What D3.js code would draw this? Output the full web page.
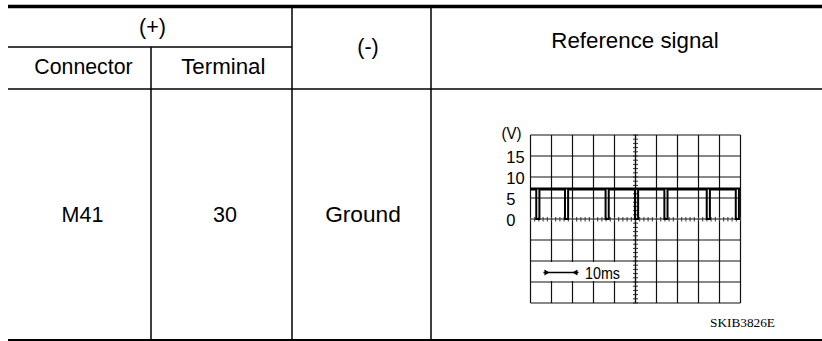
<!DOCTYPE html>
<html><head><meta charset="utf-8">
<script src="https://cdn.jsdelivr.net/npm/d3@7"></script>
<style>html,body{margin:0;padding:0;background:#fff;} svg{display:block}</style>
</head><body>
<svg id="c" width="822" height="341"></svg>
<script>
// ---------- data ----------
const groupHeader = "(+)";
const subHeaders = ["Connector", "Terminal"];
const negHeader = "(-)";
const signalHeader = "Reference signal";
const rowValues = ["M41", "30", "Ground"];
const figureCode = "SKIB3826E";

const voltUnit = "(V)";
const voltTicks = [15, 10, 5, 0];
const voltDomain = [-20, 20];
const timeDomain = [0, 60];            // ms across the screen
const highLevel = 7;                   // V
const lowLevel = 0;                    // V
const pulseTimes = [2.1, 10.3, 21.9, 30.3, 38.7, 50.8, 59.1]; // ms
const pulseWidth = 0.9;                // ms
const timeMarker = [3.7, 13.7];        // ms
const timeMarkerLabel = "10ms";

// ---------- layout ----------
const svg = d3.select("#c");
const font = "'Liberation Sans', Arial, sans-serif";
const colX = [8, 151, 292, 431, 822];

const line = (x1, y1, x2, y2, w) => svg.append("line")
  .attr("x1", x1).attr("y1", y1).attr("x2", x2).attr("y2", y2)
  .attr("stroke", "#000").attr("stroke-width", w);

line(colX[0], 6.5, colX[4], 6.5, 3.5);
line(colX[0], 47, colX[2], 47, 1.5);
line(colX[0], 89, colX[4], 89, 1.5);
line(colX[0], 340, colX[4], 340, 2);
line(colX[1], 47, colX[1], 339, 1.5);
line(colX[2], 8, colX[2], 339, 1.5);
line(colX[3], 8, colX[3], 339, 1.5);

const txt = (s, x, y, size, opts = {}) => svg.append("text")
  .attr("x", x).attr("y", y).attr("text-anchor", opts.anchor || "middle")
  .attr("font-family", opts.family || font).attr("font-size", size)
  .attr("fill", "#000").text(s);

txt(groupHeader, 152.5, 34, 21.5);
txt(subHeaders[0], 83.5, 74, 21.3);
txt(subHeaders[1], 223.3, 74, 22.3);
txt(negHeader, 368, 53.5, 21.5);
txt(signalHeader, 635, 48.3, 22.3);
const rowCenters = [82.5, 225, 363];
const rowSizes = [21.5, 21.5, 22.7];
rowValues.forEach((v, i) => txt(v, rowCenters[i], 221.7, rowSizes[i]));

txt(figureCode, 710, 327, 12.5, {anchor: "start", family: "'Liberation Serif', 'Times New Roman', serif"})
  .attr("textLength", 65).attr("lengthAdjust", "spacingAndGlyphs");

// ---------- oscilloscope ----------
const x = d3.scaleLinear().domain(timeDomain).range([530.5, 740.5]);
const y = d3.scaleLinear().domain(voltDomain).range([303, 135]);
const g = svg.append("g");

const xMajor = d3.range(timeDomain[0], timeDomain[1] + 0.01, (timeDomain[1] - timeDomain[0]) / 10);
const yMajor = d3.range(voltDomain[0], voltDomain[1] + 0.01, 5);
g.selectAll(".gx").data(xMajor).join("line")
  .attr("x1", d => x(d)).attr("x2", d => x(d)).attr("y1", y(voltDomain[1])).attr("y2", y(voltDomain[0]))
  .attr("stroke", "#111").attr("stroke-width", 1.2);
g.selectAll(".gy").data(yMajor).join("line")
  .attr("y1", d => y(d)).attr("y2", d => y(d)).attr("x1", x(timeDomain[0])).attr("x2", x(timeDomain[1]))
  .attr("stroke", "#111").attr("stroke-width", 1.2);

// white box behind time marker (knocks out grid)
g.append("rect").attr("x", x(timeMarker[0]) - 3).attr("y", y(-10) + 1)
  .attr("width", x(timeMarker[1]) - x(timeMarker[0]) + 50).attr("height", y(-15) - y(-10) - 2)
  .attr("fill", "#fff");

// minor ticks on centre axes
const tc = (timeDomain[0] + timeDomain[1]) / 2;
const yMinor = d3.range(voltDomain[0], voltDomain[1] + 0.01, 1);
const xMinor = d3.range(timeDomain[0], timeDomain[1] + 0.01, 1.2);
g.selectAll(".my").data(yMinor).join("line")
  .attr("x1", x(tc) - 2.5).attr("x2", x(tc) + 2.5).attr("y1", d => y(d)).attr("y2", d => y(d))
  .attr("stroke", "#333").attr("stroke-width", 1);
g.append("line").attr("x1", x(tc)).attr("x2", x(tc)).attr("y1", y(voltDomain[1])).attr("y2", y(voltDomain[0]))
  .attr("stroke", "#111").attr("stroke-width", 1.2);
g.selectAll(".mx").data(xMinor).join("line")
  .attr("x1", d => x(d)).attr("x2", d => x(d)).attr("y1", y(0) - 2).attr("y2", y(0) + 2.5)
  .attr("stroke", "#333").attr("stroke-width", 1);

// signal trace
const pts = [[timeDomain[0], highLevel]];
pulseTimes.forEach(t => {
  pts.push([t - pulseWidth / 2, highLevel], [t - pulseWidth / 2, lowLevel],
           [t + pulseWidth / 2, lowLevel], [t + pulseWidth / 2, highLevel]);
});
pts.push([timeDomain[1], highLevel]);
g.append("path").attr("d", d3.line().x(d => x(d[0])).y(d => y(d[1]))(pts))
  .attr("fill", "none").attr("stroke", "#000").attr("stroke-width", 2)
  .attr("stroke-linejoin", "miter");
g.append("path").attr("d", d3.line().x(d => x(d[0])).y(d => y(d[1]) - 1)([[timeDomain[0], highLevel], [timeDomain[1], highLevel]]))
  .attr("fill", "none").attr("stroke", "#000").attr("stroke-width", 2);

// labels
const lab = (s, xx, yy, size, w) => g.append("text").attr("x", xx).attr("y", yy)
  .attr("font-family", font).attr("font-size", size).attr("fill", "#000")
  .attr("textLength", w).attr("lengthAdjust", "spacingAndGlyphs").text(s);
lab(voltUnit, 501.5, 139, 17, 20);
voltTicks.forEach(v => lab(String(v), 506.3, y(v) + 7, 17, String(v).length * 9.2));

// time marker
const my = 272.5;
g.append("line").attr("x1", x(timeMarker[0])).attr("x2", x(timeMarker[1])).attr("y1", my).attr("y2", my)
  .attr("stroke", "#000").attr("stroke-width", 1.3);
const a0 = x(timeMarker[0]) + 6, a1 = x(timeMarker[1]) - 6;
g.append("path").attr("d", `M${a0},${my} l-5,-3 l0,6 z`).attr("fill", "#000");
g.append("path").attr("d", `M${a1},${my} l5,-3 l0,6 z`).attr("fill", "#000");
lab(timeMarkerLabel, 585, 279, 17, 35);
</script>
</body></html>
